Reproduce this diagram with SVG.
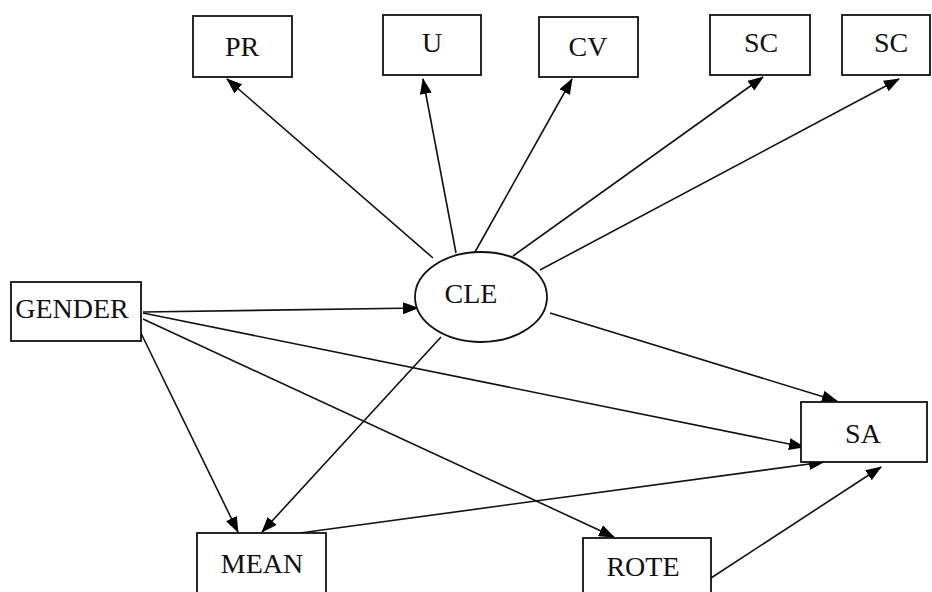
<svg xmlns="http://www.w3.org/2000/svg" width="932" height="592" viewBox="0 0 932 592">
<style>
.box{fill:#fff;stroke:#111;stroke-width:1.8}
.lbl{font-family:"Liberation Serif","Times New Roman",serif;font-size:28px;fill:#111;text-anchor:middle}
.edge{stroke:#111;stroke-width:1.6;fill:none;marker-end:url(#ah)}
</style>
<defs>
<marker id="ah" markerUnits="userSpaceOnUse" markerWidth="16" markerHeight="12" refX="15" refY="6" orient="auto" viewBox="0 0 16 12">
<path d="M0,0 L16,6 L0,12 z" fill="#000"/>
</marker>
</defs>
<rect width="932" height="592" fill="#fff"/>
<g id="connectors">
<line class="edge" x1="433" y1="258" x2="227" y2="79"/>
<line class="edge" x1="456" y1="253" x2="423" y2="79"/>
<line class="edge" x1="475" y1="252" x2="572" y2="79"/>
<line class="edge" x1="513" y1="256" x2="763" y2="77"/>
<line class="edge" x1="540" y1="270" x2="899" y2="79"/>
<line class="edge" x1="143" y1="312" x2="418" y2="308"/>
<line class="edge" x1="143" y1="313" x2="804" y2="447"/>
<line class="edge" x1="143" y1="319" x2="614" y2="537"/>
<line class="edge" x1="137" y1="325" x2="238" y2="532"/>
<line class="edge" x1="441" y1="337" x2="262" y2="532"/>
<line class="edge" x1="550" y1="313" x2="837" y2="401"/>
<line class="edge" x1="300" y1="533" x2="824" y2="462"/>
<line class="edge" x1="711" y1="578" x2="881" y2="467"/>
</g>
<g id="PR"><rect class="box" x="193" y="16" width="99" height="61"/><text class="lbl" x="242" y="56">PR</text></g>
<g id="U"><rect class="box" x="383" y="15" width="98" height="60"/><text class="lbl" x="432" y="52">U</text></g>
<g id="CV"><rect class="box" x="539" y="17" width="99" height="60"/><text class="lbl" x="588" y="56">CV</text></g>
<g id="SC1"><rect class="box" x="710" y="15" width="100" height="60"/><text class="lbl" x="761" y="52">SC</text></g>
<g id="SC2"><rect class="box" x="842" y="15" width="88" height="60"/><text class="lbl" x="891" y="52">SC</text></g>
<g id="GENDER"><rect class="box" x="11" y="282" width="130" height="59"/><text class="lbl" x="72" y="318">GENDER</text></g>
<g id="CLE"><ellipse class="box" cx="481" cy="297" rx="66" ry="45"/><text class="lbl" x="471" y="303">CLE</text></g>
<g id="SA"><rect class="box" x="801" y="402" width="126" height="60"/><text class="lbl" x="863" y="443">SA</text></g>
<g id="MEAN"><rect class="box" x="197" y="533" width="129" height="70"/><text class="lbl" x="262" y="573">MEAN</text></g>
<g id="ROTE"><rect class="box" x="583" y="538" width="128" height="70"/><text class="lbl" x="643" y="576">ROTE</text></g>
</svg>
